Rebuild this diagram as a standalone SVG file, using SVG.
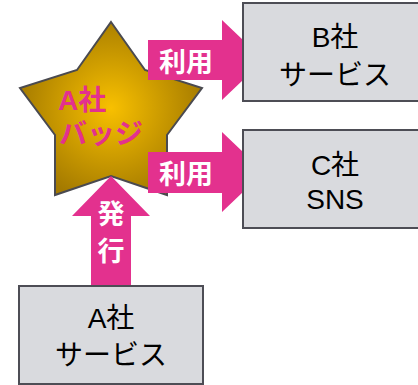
<svg xmlns="http://www.w3.org/2000/svg" width="418" height="385" viewBox="0 0 418 385">
<style>
.box{fill:#D9DADE;stroke:#4D4D55;stroke-width:2}
.bt{font-family:"Liberation Sans","Noto Sans CJK JP",sans-serif;font-size:28px;fill:#000;text-anchor:middle}
.arr{fill:#E3318E}
.at{font-family:"Liberation Sans","Noto Sans CJK JP",sans-serif;font-size:27px;font-weight:bold;fill:#fff;text-anchor:middle}
.st{font-family:"Liberation Sans","Noto Sans CJK JP",sans-serif;font-size:28px;font-weight:bold;fill:#E3318E}
</style>
<defs>
<radialGradient id="gold" cx="111" cy="108" r="95" gradientUnits="userSpaceOnUse">
<stop offset="0" stop-color="#F8C000"/>
<stop offset="1" stop-color="#A47A00"/>
</radialGradient>
</defs>
<g id="badge">
<polygon points="111,22 145,70 202,88 167,135 167,195 111,176 55,195 55,135 20,88 77,70" fill="url(#gold)" stroke="#4A4A50" stroke-width="2" stroke-linejoin="miter"/>
<text class="st" x="58" y="110">A社</text>
<text class="st" x="59" y="144">バッジ</text>
</g>
<g id="connectors">
<polygon class="arr" points="148,40 222,40 222,20 264,60 222,100 222,80 148,80"/>
<text class="at" x="186" y="72">利用</text>
<polygon class="arr" points="148,152 222,152 222,132 264,172 222,212 222,193 148,193"/>
<text class="at" x="186" y="184">利用</text>
<polygon class="arr" points="111,176 150,216 131,216 131,287 91,287 91,216 72,216"/>
<text class="at" x="111" y="224">発</text>
<text class="at" x="111" y="261">行</text>
</g>
<g id="b-service">
<rect class="box" x="243" y="3" width="190" height="98"/>
<text class="bt" x="335" y="47">B社</text>
<text class="bt" x="335" y="85">サービス</text>
</g>
<g id="c-sns">
<rect class="box" x="243" y="130" width="190" height="98"/>
<text class="bt" x="335" y="175">C社</text>
<text class="bt" x="335" y="209">SNS</text>
</g>
<g id="a-service">
<rect class="box" x="19" y="286" width="184" height="98"/>
<text class="bt" x="111" y="328">A社</text>
<text class="bt" x="111" y="365">サービス</text>
</g>
</svg>
